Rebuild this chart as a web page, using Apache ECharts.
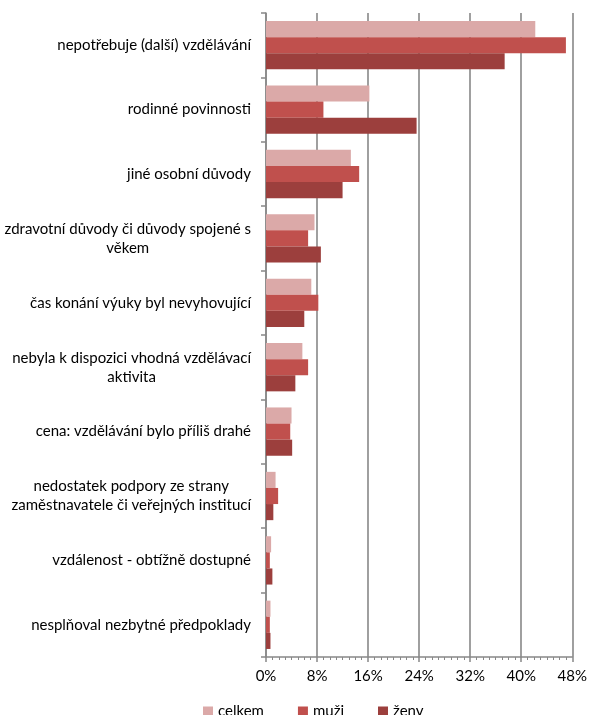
<!DOCTYPE html>
<html>
<head>
<meta charset="utf-8">
<script src="https://cdn.jsdelivr.net/npm/echarts@6/dist/echarts.min.js"></script>
<style>
html,body{margin:0;padding:0;background:#fff;}
#chart{width:590px;height:715px;}
</style>
</head>
<body>
<div id="chart"></div>
<script>
const categories = [
  'nepotřebuje (další) vzdělávání',
  'rodinné povinnosti',
  'jiné osobní důvody',
  'zdravotní důvody či důvody spojené s\nvěkem',
  'čas konání výuky byl nevyhovující',
  'nebyla k dispozici vhodná vzdělávací\naktivita',
  'cena: vzdělávání bylo příliš drahé',
  'nedostatek podpory ze strany\nzaměstnavatele či veřejných institucí',
  'vzdálenost - obtížně dostupné',
  'nesplňoval nezbytné předpoklady'
];
const seriesNames = ['celkem', 'muži', 'ženy'];
const celkem = [42.2, 16.2, 13.3, 7.6, 7.1, 5.7, 4.0, 1.5, 0.8, 0.7];
const muzi   = [47.0, 9.0, 14.6, 6.6, 8.2, 6.6, 3.8, 1.9, 0.6, 0.6];
const zeny   = [37.4, 23.6, 12.0, 8.6, 6.0, 4.6, 4.1, 1.15, 1.0, 0.7];
const xTicks = [0, 8, 16, 24, 32, 40, 48];

const colors = ['#DBA9A8', '#C0504D', '#9C3F3D'];
const FONT = 'Lato';
const chart = echarts.init(document.getElementById('chart'), null, {renderer: 'canvas'});
const mk = (name, data, i) => ({
  name: name, type: 'bar', data: data,
  barGap: '0%', barCategoryGap: '25%',
  itemStyle: {color: colors[i]},
  emphasis: {disabled: true}
});
chart.setOption({
  animation: false,
  textStyle: {fontFamily: FONT},
  grid: {left: 266, right: 15, top: 13, bottom: 58, containLabel: false},
  legend: {
    top: 699, left: 198,
    itemWidth: 10, itemHeight: 10, itemGap: 34,
    icon: 'rect',
    textStyle: {fontFamily: FONT, fontSize: 15, color: '#000'},
    data: seriesNames
  },
  xAxis: {
    type: 'value', min: xTicks[0], max: xTicks[xTicks.length - 1], interval: 8,
    axisLine: {show: true, lineStyle: {color: '#888', width: 1.5}},
    axisTick: {show: true, length: 5, lineStyle: {color: '#888', width: 1.5}},
    minorTick: {show: true, splitNumber: 8, length: 3, lineStyle: {color: '#888', width: 1}},
    splitLine: {show: true, lineStyle: {color: '#888', width: 1.6}},
    axisLabel: {formatter: '{value}%', fontFamily: FONT, fontSize: 15, color: '#000', margin: 12}
  },
  yAxis: {
    type: 'category', data: categories, inverse: true,
    axisLine: {show: true, lineStyle: {color: '#888', width: 1.5}},
    axisTick: {show: true, length: 5, alignWithLabel: false, lineStyle: {color: '#888', width: 1.5}},
    axisLabel: {
      margin: 15, align: 'right', color: '#000',
      fontFamily: FONT, fontSize: 15, lineHeight: 19,
      formatter: v => v.split('\n').map(l => '{c|' + l + '}').join('\n'),
      rich: {c: {align: 'center', fontFamily: FONT, fontSize: 15, lineHeight: 19, color: '#000'}}
    }
  },
  series: [mk(seriesNames[0], celkem, 0), mk(seriesNames[1], muzi, 1), mk(seriesNames[2], zeny, 2)]
});
</script>
</body>
</html>
